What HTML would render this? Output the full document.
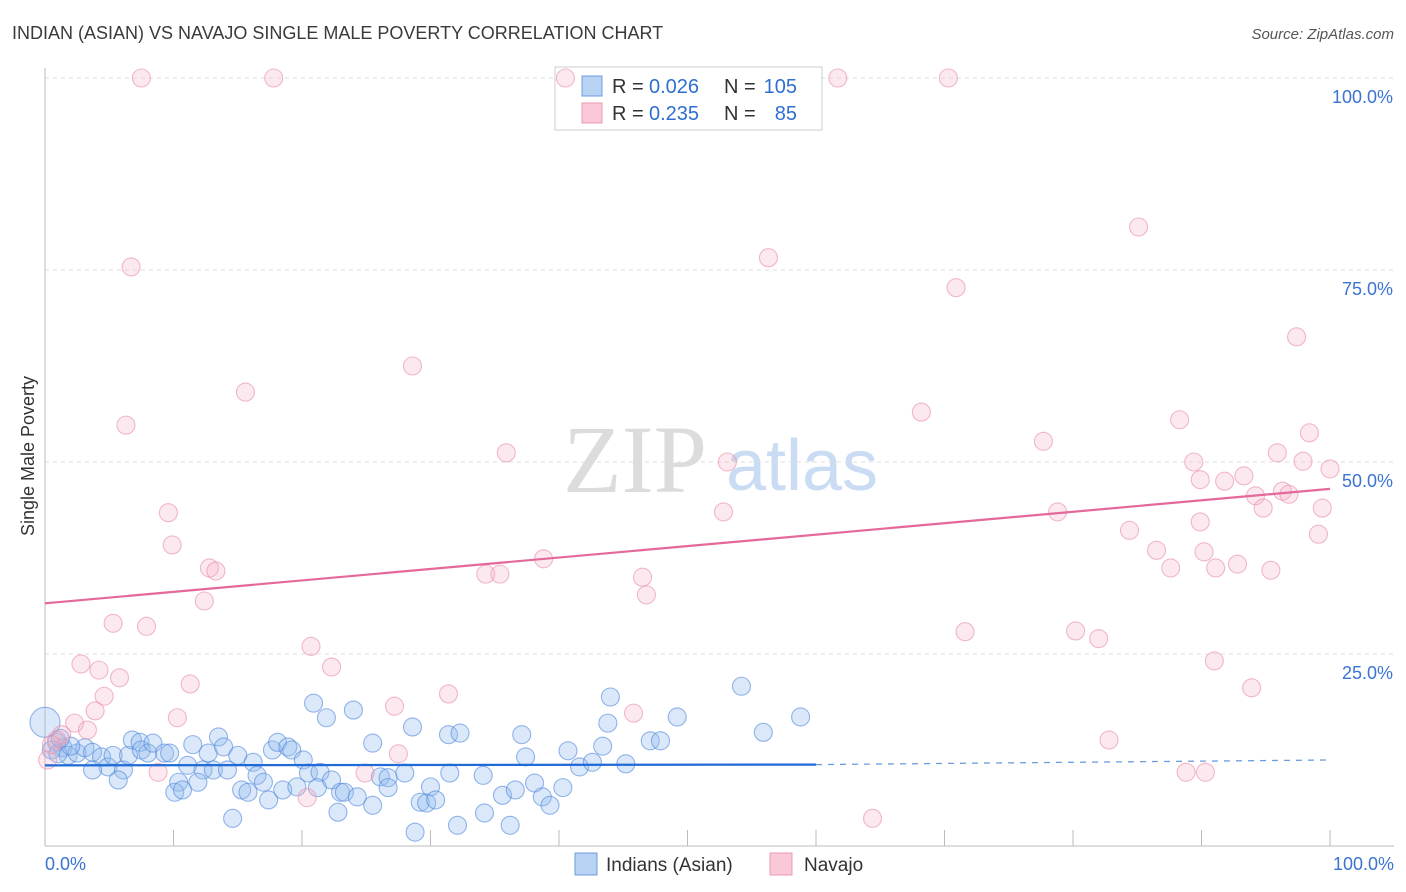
<!DOCTYPE html>
<html><head><meta charset="utf-8"><style>
body{margin:0;background:#fff;font-family:"Liberation Sans",sans-serif;}
#wrap{position:relative;width:1406px;height:892px;overflow:hidden;}
</style></head><body>
<div id="wrap">
<svg id="svg" width="1406" height="892" xmlns="http://www.w3.org/2000/svg">
<text x="12" y="39" font-size="18" fill="#3a3a3a">INDIAN (ASIAN) VS NAVAJO SINGLE MALE POVERTY CORRELATION CHART</text>
<text x="1394" y="39" font-size="15" fill="#555" font-style="italic" text-anchor="end">Source: ZipAtlas.com</text>
<text x="635" y="492" font-size="96" fill="#dcdcdc" font-family="Liberation Serif,serif" text-anchor="middle">ZIP</text>
<text x="802" y="490" font-size="72" fill="#c9dcf3" text-anchor="middle">atlas</text>
<text x="34" y="456" font-size="18" fill="#333" text-anchor="middle" transform="rotate(-90 34 456)">Single Male Poverty</text>
<g id="grid"></g>
<g>
<rect x="555" y="67" width="267" height="63" fill="#fff" stroke="#ccc"/>
<rect x="582" y="76" width="20" height="20" fill="#b9d3f5" stroke="#6b9de0"/>
<rect x="582" y="103" width="20" height="20" fill="#f9c9d7" stroke="#ea9ab4"/>
<text x="612" y="93" font-size="20" fill="#333">R =</text>
<text x="649" y="93" font-size="20" fill="#2f6fd0">0.026</text>
<text x="724" y="93" font-size="20" fill="#333">N =</text>
<text x="797" y="93" font-size="20" fill="#2f6fd0" text-anchor="end">105</text>
<text x="612" y="120" font-size="20" fill="#333">R =</text>
<text x="649" y="120" font-size="20" fill="#2f6fd0">0.235</text>
<text x="724" y="120" font-size="20" fill="#333">N =</text>
<text x="797" y="120" font-size="20" fill="#2f6fd0" text-anchor="end">85</text>
</g>
<g id="marks"></g><g id="trend"></g>
<g>
<rect x="575" y="853" width="22" height="22" fill="#b9d3f5" stroke="#6b9de0"/>
<text x="606" y="871" font-size="19" fill="#333">Indians (Asian)</text>
<rect x="770" y="853" width="22" height="22" fill="#f9c9d7" stroke="#ea9ab4"/>
<text x="804" y="871" font-size="19" fill="#333">Navajo</text>
</g>
</svg></div>
<script>
const yTicks=[25,50,75,100];
const yTickLabels=["25.0%","50.0%","75.0%","100.0%"];
const xTicks=[0,10,20,30,40,50,60,70,80,90,100];
const blueX=[0,0.9,1.4,1.8,2.5,3.1,3.7,4.4,4.9,3.7,5.3,6.1,5.7,6.5,6.8,7.4,7.5,8.0,8.4,9.3,9.7,11.5,11.1,12.3,12.7,13.5,13.9,13.1,14.2,15.0,16.2,16.5,17.0,15.3,15.8,17.4,10.4,10.1,10.7,11.9,14.6,17.7,18.1,18.9,19.2,20.1,20.5,21.4,20.9,21.9,24.0,25.5,28.6,18.5,19.6,21.2,22.3,23.0,23.3,24.3,22.8,25.5,26.1,26.7,26.7,28.0,30.0,29.2,29.7,30.4,28.8,31.4,32.3,37.1,37.4,31.5,34.1,35.6,36.6,38.1,38.7,39.3,40.3,34.2,32.1,36.2,40.7,41.6,42.6,43.4,43.8,44.0,45.2,47.1,47.9,49.2,54.2,55.9,58.8,0.5,1.0,2.0,1.2];
const blueY=[16.1,13.5,12.8,11.8,12.1,12.8,12.2,11.6,10.3,9.9,11.8,9.9,8.6,11.8,13.8,13.5,12.5,12.1,13.4,12.1,12.1,13.2,10.5,9.9,12.1,14.2,12.9,9.9,9.9,11.8,10.9,9.2,8.3,7.3,7.0,6.0,8.3,7.0,7.3,8.3,3.6,12.5,13.5,12.9,12.5,11.2,9.5,9.6,18.6,16.7,17.7,13.4,15.5,7.3,7.7,7.6,8.6,7.0,7.0,6.4,4.4,5.3,9.0,8.9,7.6,9.5,7.7,5.7,5.6,6.0,1.8,14.5,14.7,14.5,11.6,9.5,9.2,6.6,7.3,8.2,6.4,5.3,7.6,4.3,2.7,2.7,12.4,10.3,10.9,13.0,16.0,19.4,10.7,13.7,13.7,16.8,20.8,14.8,16.8,12.5,12.0,13.0,14.0];
const pinkX=[7.5,17.8,40.5,61.7,70.3,6.7,56.3,85.1,70.9,28.6,15.6,97.4,6.3,68.2,35.9,53.1,77.7,88.3,89.4,98.4,95.9,97.9,100,89.9,93.3,91.8,94.2,96.3,96.8,9.6,52.8,78.8,94.8,99.4,9.9,84.4,89.9,99.1,86.5,90.2,12.8,13.3,38.8,34.3,35.4,46.5,87.6,91.1,92.8,95.4,12.4,46.8,5.3,7.9,71.6,20.7,80.2,82.0,2.8,22.3,4.2,91.0,5.8,11.3,4.6,31.4,93.9,3.9,10.3,27.2,45.8,2.3,3.3,82.8,27.5,1.3,0.9,0.5,8.8,24.9,88.8,90.3,20.4,64.4,0.2];
const pinkY=[100,100,100,100,100,75.4,76.6,80.6,72.7,62.5,59.1,66.3,54.8,56.5,51.2,50.0,52.7,55.5,50.0,53.8,51.2,50.1,49.1,47.7,48.2,47.5,45.6,46.2,45.8,43.4,43.5,43.5,44.0,44.0,39.2,41.1,42.2,40.6,38.5,38.3,36.2,35.8,37.4,35.4,35.4,35.0,36.2,36.2,36.7,35.9,31.9,32.7,29.0,28.6,27.9,26.0,28.0,27.0,23.7,23.3,22.9,24.1,21.9,21.1,19.5,19.8,20.6,17.6,16.7,18.2,17.3,16.0,15.1,13.8,12.0,14.5,13.8,13.2,9.6,9.5,9.6,9.6,6.3,3.6,11.2];
const blueTrendX=[0,60,100], blueTrendY=[10.5,10.6,11.2];
const pinkTrendX=[0,100], pinkTrendY=[31.6,46.5];
const NS="http://www.w3.org/2000/svg";
const sx=v=>45+v*12.85, sy=v=>846-v*7.68;
function mk(t,a,p){const e=document.createElementNS(NS,t);for(const k in a)e.setAttribute(k,a[k]);p.appendChild(e);return e;}
const grid=document.getElementById('grid'),marks=document.getElementById('marks'),trend=document.getElementById('trend');
yTicks.forEach((v,i)=>{
 const l=mk('line',{x1:45,x2:1394,y1:sy(v),y2:sy(v),stroke:'#ddd','stroke-dasharray':'4,4'},grid);
 
 
 const t=mk('text',{x:1393,y:sy(v)+25,'font-size':18,fill:'#3a73d0','text-anchor':'end'},grid);t.textContent=yTickLabels[i];
 
 
});
mk('line',{x1:45,x2:45,y1:68,y2:846,stroke:'#bbb'},grid);
mk('line',{x1:45,x2:1394,y1:846,y2:846,stroke:'#bbb'},grid);
xTicks.forEach(v=>{const l=mk('line',{x1:sx(v),x2:sx(v),y1:830,y2:846,stroke:'#bbb'},grid);
 
 });
let t0=mk('text',{x:45,y:870,'font-size':18,fill:'#3a73d0'},grid);t0.textContent='0.0%';


let t1=mk('text',{x:1394,y:870,'font-size':18,fill:'#3a73d0','text-anchor':'end'},grid);t1.textContent='100.0%';


blueX.forEach((v,i)=>{const c=mk('circle',{cx:sx(v),cy:sy(blueY[i]),r:i==0?15:9,fill:'rgba(150,188,238,0.35)',stroke:'rgba(80,135,220,0.6)','stroke-width':1.1},marks);
 
 });
pinkX.forEach((v,i)=>{const c=mk('circle',{cx:sx(v),cy:sy(pinkY[i]),r:9,fill:'rgba(245,175,198,0.28)',stroke:'rgba(232,140,170,0.6)','stroke-width':1.1},marks);
 
 });
let b1=mk('line',{x1:sx(blueTrendX[0]),y1:sy(blueTrendY[0]),x2:sx(blueTrendX[1]),y2:sy(blueTrendY[1]),stroke:'#1f6ad6','stroke-width':2.2},trend);


let b2=mk('line',{x1:sx(blueTrendX[1]),y1:sy(blueTrendY[1]),x2:sx(blueTrendX[2]),y2:sy(blueTrendY[2]),stroke:'#6b9de0','stroke-width':1.3,'stroke-dasharray':'6,6'},trend);


let p1=mk('line',{x1:sx(pinkTrendX[0]),y1:sy(pinkTrendY[0]),x2:sx(pinkTrendX[1]),y2:sy(pinkTrendY[1]),stroke:'#e4689a','stroke-width':2.2},trend);


</script>
</body></html>
